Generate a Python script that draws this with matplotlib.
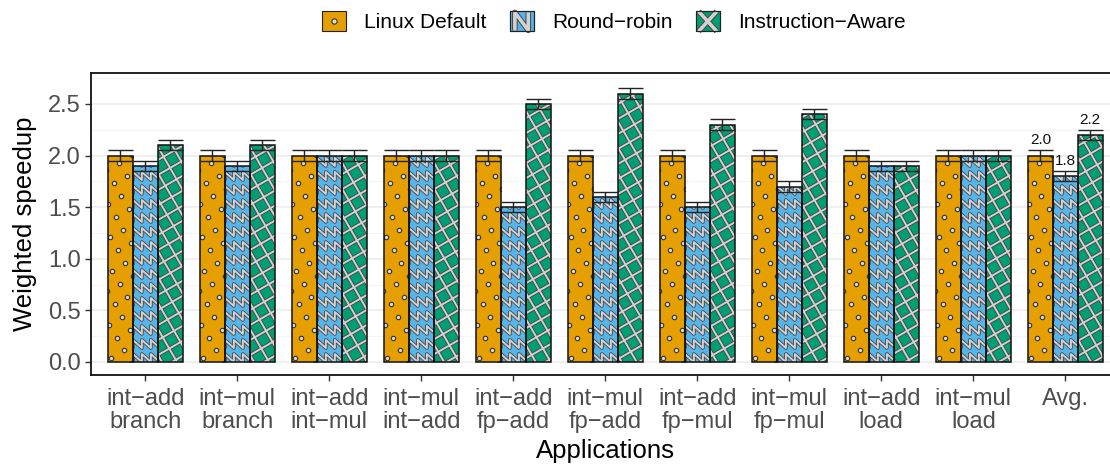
import numpy as np
import matplotlib
matplotlib.use('Agg')
import matplotlib.pyplot as plt
from matplotlib.patches import Rectangle, Patch
from matplotlib.lines import Line2D
from matplotlib.legend_handler import HandlerBase

plt.rcParams['font.family'] = ['Liberation Sans', 'DejaVu Sans']

# data
apps = ['int\u2212add\nbranch', 'int\u2212mul\nbranch', 'int\u2212add\nint\u2212mul',
        'int\u2212mul\nint\u2212add', 'int\u2212add\nfp\u2212add', 'int\u2212mul\nfp\u2212add',
        'int\u2212add\nfp\u2212mul', 'int\u2212mul\nfp\u2212mul', 'int\u2212add\nload',
        'int\u2212mul\nload', 'Avg.']
schemes = ['Linux Default', 'Round\u2212robin', 'Instruction\u2212Aware']
linux_default = [2.0, 2.0, 2.0, 2.0, 2.0, 2.0, 2.0, 2.0, 2.0, 2.0, 2.0]
round_robin = [1.9, 1.9, 2.0, 2.0, 1.5, 1.6, 1.5, 1.7, 1.9, 2.0, 1.8]
instr_aware = [2.1, 2.1, 2.0, 2.0, 2.5, 2.6, 2.3, 2.4, 1.9, 2.0, 2.2]
err_ld = [0.05] * 11
err_rr = [0.05] * 11
err_ia = [0.05] * 11
avg_labels = ['2.0', '1.8', '2.2']

colors = ['#E69F00', '#56B4E9', '#009E73']
kinds = ['dots', 'zigzag', 'cross']

W_PX, H_PX = 1110, 466
fig = plt.figure(figsize=(W_PX / 100, H_PX / 100), dpi=100)
ax_l, ax_r, ax_t, ax_b = 91, 1119.6, 73, 375
ax = fig.add_axes([ax_l / W_PX, (H_PX - ax_b) / H_PX, (ax_r - ax_l) / W_PX, (ax_b - ax_t) / H_PX])
xmin, xmax = -0.59, 10.59
ymin, ymax = -0.126, 2.8
ax.set_xlim(xmin, xmax)
ax.set_ylim(ymin, ymax)
PX = (ax_r - ax_l) / (xmax - xmin)   # pixels per x unit
PY = (ax_b - ax_t) / (ymax - ymin)   # pixels per y unit

DARK = '#444444'
LIGHT = '#D2D2D2'


def draw_lines(segs, clip, lw_dark=2.6, lw_light=1.4):
    for xs, ys in segs:
        l1, = ax.plot(xs, ys, color=DARK, lw=lw_dark, solid_capstyle='butt', zorder=2.2)
        l1.set_clip_path(clip)
    for xs, ys in segs:
        l2, = ax.plot(xs, ys, color=LIGHT, lw=lw_light, solid_capstyle='butt', zorder=2.3)
        l2.set_clip_path(clip)


def pattern(bar, kind):
    x0, y0 = bar.get_x(), bar.get_y()
    w, h = bar.get_width() * PX, bar.get_height() * PY
    if kind == 'dots':
        s, th = 15.0, np.deg2rad(30)
        a1 = s * np.array([np.cos(th), np.sin(th)])
        a2 = s * np.array([-np.sin(th), np.cos(th)])
        n = int((w + h) / s) + 3
        ii, jj = np.meshgrid(np.arange(-n, n), np.arange(-n, n))
        px = ii * a1[0] + jj * a2[0] + 3
        py = ii * a1[1] + jj * a2[1] + 4
        m = (px > -3) & (px < w + 3) & (py > -3) & (py < h + 3)
        sc = ax.scatter(x0 + px[m] / PX, y0 + py[m] / PY, s=10, facecolor='#DDDDDD',
                        edgecolor='#333333', linewidths=0.8, zorder=2.2)
        sc.set_clip_path(bar)
    elif kind == 'zigzag':
        tw, amp, rs = 9.0, 8.0, 14.0
        segs = []
        for r in np.arange(-rs, h + rs, rs):
            xs, ys = [], []
            for k in np.arange(-tw, w + tw, tw):
                xs += [k, k]
                ys += [r, r + amp]
            segs.append((x0 + np.array(xs) / PX, y0 + np.array(ys) / PY))
        draw_lines(segs, bar)
    else:
        sp = 13.0
        segs = []
        cx, cy = w / 2, h / 2
        L = w + h
        for ang in (30, 120):
            th = np.deg2rad(ang)
            d = np.array([np.cos(th), np.sin(th)])
            nv = np.array([-np.sin(th), np.cos(th)])
            for k in np.arange(-L / 2, L / 2, sp):
                c = np.array([cx, cy]) + k * nv
                p0, p1 = c - L * d, c + L * d
                segs.append((x0 + np.array([p0[0], p1[0]]) / PX,
                             y0 + np.array([p0[1], p1[1]]) / PY))
        draw_lines(segs, bar)


x = np.arange(len(apps))
bw = 0.27
series = [linux_default, round_robin, instr_aware]
errs = [err_ld, err_rr, err_ia]
for i, (vals, er) in enumerate(zip(series, errs)):
    xs = x + (i - 1) * bw
    bars = ax.bar(xs, vals, width=bw, color=colors[i], edgecolor='none', zorder=2)
    for b in bars:
        pattern(b, kinds[i])
    ax.bar(xs, vals, width=bw, facecolor='none', edgecolor='#111111', linewidth=1.1, zorder=2.5)
    ax.errorbar(xs, vals, yerr=er, fmt='none', ecolor='#222222', elinewidth=1.0,
                capsize=9, capthick=1.0, zorder=3)
    ax.text(x[-1] + (i - 1) * bw, vals[-1] + er[-1] + 0.03, avg_labels[i],
            ha='center', va='bottom', fontsize=11, color='#111111', zorder=4)

ax.set_yticks([0, 0.5, 1.0, 1.5, 2.0, 2.5])
ax.set_yticklabels(['0.0', '0.5', '1.0', '1.5', '2.0', '2.5'])
ax.set_yticks([0.25, 0.75, 1.25, 1.75, 2.25, 2.75], minor=True)
ax.set_xticks(x)
ax.set_xticklabels(apps, linespacing=1.05)
ax.tick_params(axis='both', which='major', labelsize=17, labelcolor='#4D4D4D',
               color='#333333', length=4.5, width=1.0)
ax.tick_params(axis='x', pad=5)
ax.tick_params(axis='y', pad=3)
ax.tick_params(axis='y', which='minor', length=0)
ax.grid(axis='y', which='major', color='#EBEBEB', lw=1.1)
ax.grid(axis='y', which='minor', color='#F3F3F3', lw=0.6)
ax.set_axisbelow(True)
for sp in ax.spines.values():
    sp.set_color('#111111')
    sp.set_linewidth(1.3)

ax.set_ylabel('Weighted speedup', fontsize=18.5, color='black', labelpad=8)
ax.set_xlabel('Applications', fontsize=18.5, color='black', labelpad=4)


class KeyHandler(HandlerBase):
    def __init__(self, kind, color):
        super().__init__()
        self.kind = kind
        self.color = color

    def create_artists(self, legend, orig_handle, xdescent, ydescent, width, height, fontsize, trans):
        x0, y0 = -xdescent, -ydescent
        rect = Rectangle((x0, y0), width, height, facecolor=self.color, edgecolor='#222222',
                         lw=0.8, transform=trans)
        arts = [rect]
        if self.kind == 'dots':
            arts.append(Line2D([x0 + width / 2], [y0 + height / 2], marker='o', ms=3.8,
                               mfc='#DDDDDD', mec='#333333', mew=0.8, transform=trans))
        else:
            if self.kind == 'zigzag':
                xs = [x0 + 0.22 * width, x0 + 0.22 * width, x0 + 0.78 * width, x0 + 0.78 * width]
                ys = [y0 + 0.05 * height, y0 + 0.95 * height, y0 + 0.05 * height, y0 + 0.95 * height]
                paths = [(xs, ys)]
            else:
                paths = [([x0 + 0.12 * width, x0 + 0.88 * width], [y0 + 0.0 * height, y0 + 1.0 * height]),
                         ([x0 + 0.12 * width, x0 + 0.88 * width], [y0 + 1.0 * height, y0 + 0.0 * height])]
            for xs, ys in paths:
                arts.append(Line2D(xs, ys, color=DARK, lw=4.0, transform=trans, solid_capstyle='butt'))
            for xs, ys in paths:
                arts.append(Line2D(xs, ys, color=LIGHT, lw=2.6, transform=trans, solid_capstyle='butt'))
            rect2 = Rectangle((x0, y0), width, height, facecolor='none', edgecolor='#222222',
                              lw=0.8, transform=trans)
            arts.append(rect2)
        return arts


handles = [Patch(facecolor=c) for c in colors]
hmap = {h: KeyHandler(k, c) for h, k, c in zip(handles, kinds, colors)}
fig.legend(handles, schemes, handler_map=hmap, loc='center', bbox_to_anchor=(0.553, 0.953),
           ncol=3, frameon=False, fontsize=15, handlelength=1.15, handleheight=1.1,
           handletextpad=0.9, columnspacing=1.1)

fig.savefig('out.png', dpi=100)
